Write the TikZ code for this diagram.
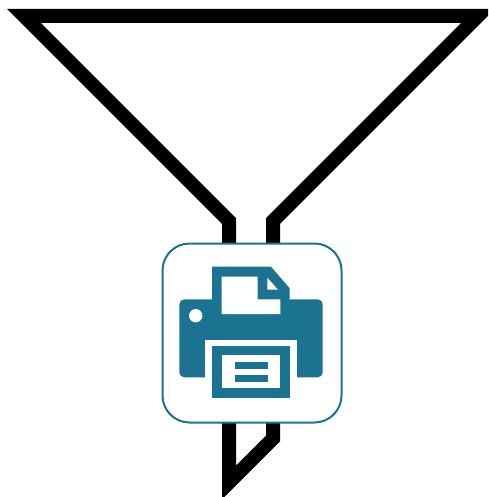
\documentclass[tikz,border=0pt]{standalone}
\definecolor{printerblue}{RGB}{28,115,145}
\tikzset{
  funnelline/.style={draw=black,line width=14pt,miter limit=20,line join=miter},
  card/.style={draw=printerblue,fill=white,line width=2pt,rounded corners=27pt},
  inkpart/.style={fill=printerblue,draw=none},
  paperpart/.style={fill=white,draw=none}
}
\begin{document}
\begin{tikzpicture}[x=1pt,y=-1pt]
\useasboundingbox (0,0) rectangle (488,497);
\clip (0,0) rectangle (488,497);
% funnel
\draw[funnelline] (229,250) -- (229,221) -- (24,16) -- (478,16) -- (273,221) -- (273,250);
\draw[funnelline] (229,415) -- (229,482.5) -- (273,438.5) -- (273,415);
% card
\draw[card] (162.5,243.5) rectangle (341.5,422.5);
% printer body
\path[inkpart,rounded corners=5pt] (179.3,299.3) rectangle (322.7,377.3);
\path[paperpart] (205.3,340) rectangle (296.7,385);
% top holder
\path[inkpart] (212,310) -- (212,266.7) -- (271,266.7) -- (289.7,288.3) -- (289.7,310) -- cycle;
% paper
\path[paperpart] (221.7,276.7) -- (257.7,276.7) -- (257.7,299.3) -- (280.3,299.3) -- (280.3,314) -- (221.7,314) -- cycle;
\path[paperpart] (267.3,277.7) -- (278,289.7) -- (267.3,289.7) -- cycle;
% indicator
\path[paperpart] (195.7,315.7) circle (6.7pt);
% tray
\path[inkpart] (212,345.7) rectangle (289.7,397.7);
\path[paperpart] (222,355.3) rectangle (280,388);
\path[inkpart] (235,362) rectangle (268,368.7);
\path[inkpart] (235,375.3) rectangle (268,382);
\end{tikzpicture}
\end{document}
